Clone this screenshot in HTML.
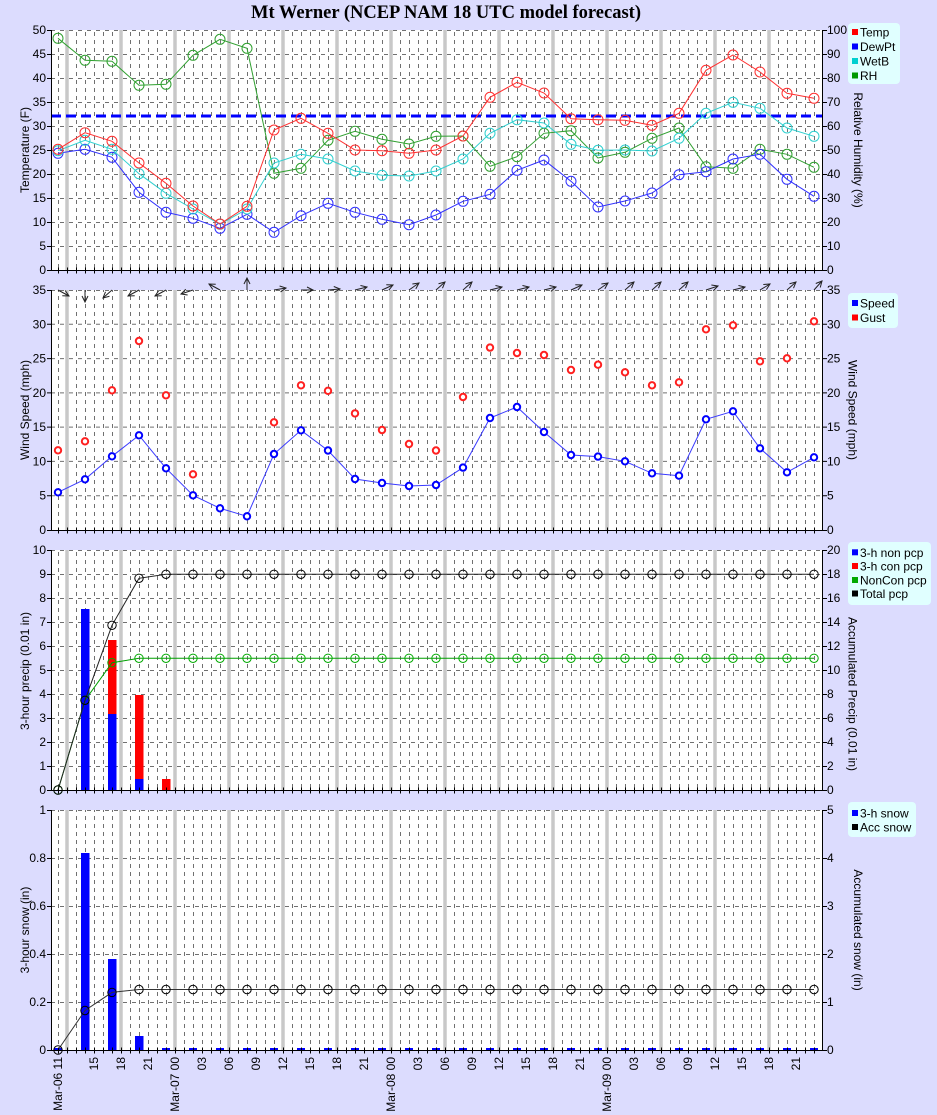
<!DOCTYPE html>
<html><head><meta charset="utf-8"><style>
html,body{margin:0;padding:0;background:#dcdcfe;width:937px;height:1115px;overflow:hidden}
svg text{font-family:"Liberation Sans",sans-serif;font-size:12px;fill:#000}
.hg{stroke:#707070;stroke-dasharray:4 5;fill:none}
.gb{stroke:#c8c8c8;stroke-width:3.5;fill:none}
.ax{fill:none;stroke:#000;stroke-width:1}
.tl{text-anchor:end}
.lab{text-anchor:middle}
.hk{stroke:#000;stroke-width:6;stroke-dasharray:1 8;fill:none}
.ar{stroke:#222;stroke-width:1;marker-end:url(#ah)}
</style></head><body>
<svg width="937" height="1115" viewBox="0 0 937 1115" xmlns="http://www.w3.org/2000/svg">
<defs>
<pattern id="vg" patternUnits="userSpaceOnUse" x="58" y="0" width="9" height="8"><rect width="1" height="4" fill="#707070"/></pattern>
<marker id="mR" markerUnits="userSpaceOnUse" markerWidth="14" markerHeight="14" refX="7" refY="7" overflow="visible"><circle cx="7" cy="7" r="5" fill="none" stroke="#ff3030"/></marker>
<marker id="mB" markerUnits="userSpaceOnUse" markerWidth="14" markerHeight="14" refX="7" refY="7" overflow="visible"><circle cx="7" cy="7" r="5" fill="none" stroke="#3030ff"/></marker>
<marker id="mC" markerUnits="userSpaceOnUse" markerWidth="14" markerHeight="14" refX="7" refY="7" overflow="visible"><circle cx="7" cy="7" r="5" fill="none" stroke="#30d0d0"/></marker>
<marker id="mG" markerUnits="userSpaceOnUse" markerWidth="14" markerHeight="14" refX="7" refY="7" overflow="visible"><circle cx="7" cy="7" r="5" fill="none" stroke="#30a030"/></marker>
<marker id="mSB" markerUnits="userSpaceOnUse" markerWidth="10" markerHeight="10" refX="5" refY="5" overflow="visible"><circle cx="5" cy="5" r="3.2" fill="#fff" stroke="#0000ff" stroke-width="2"/></marker>
<marker id="mSR" markerUnits="userSpaceOnUse" markerWidth="10" markerHeight="10" refX="5" refY="5" overflow="visible"><circle cx="5" cy="5" r="3.2" fill="#fff" stroke="#ff2020" stroke-width="2"/></marker>
<marker id="mK" markerUnits="userSpaceOnUse" markerWidth="12" markerHeight="12" refX="6" refY="6" overflow="visible"><circle cx="6" cy="6" r="4.2" fill="none" stroke="#000"/></marker>
<marker id="mG2" markerUnits="userSpaceOnUse" markerWidth="12" markerHeight="12" refX="6" refY="6" overflow="visible"><circle cx="6" cy="6" r="4.2" fill="none" stroke="#00aa00"/></marker>
<marker id="ah" markerUnits="userSpaceOnUse" markerWidth="8" markerHeight="8" refX="6" refY="3" orient="auto" overflow="visible"><path d="M0,0 L6,3 L0,6" fill="none" stroke="#222"/></marker>
</defs>

<text x="446" y="18" text-anchor="middle" style="font-family:'Liberation Serif',serif;font-size:18.5px;font-weight:bold">Mt Werner (NCEP NAM 18 UTC model forecast)</text>

<!-- ================= PANEL 1 ================= -->
<rect x="51" y="30" width="771" height="240" fill="#fff"/>
<rect x="58" y="30" width="757" height="240" fill="url(#vg)"/>
<path class="hg" d="M51 30.5H822M51 54.5H822M51 78.5H822M51 102.5H822M51 126.5H822M51 150.5H822M51 174.5H822M51 198.5H822M51 222.5H822M51 246.5H822"/>
<path class="gb" d="M67 30V270M121 30V270M175 30V270M229 30V270M283 30V270M337 30V270M391 30V270M445 30V270M499 30V270M553 30V270M607 30V270M661 30V270M715 30V270M769 30V270"/>
<path d="M51 116H822" stroke="#0000ff" stroke-width="3" stroke-dasharray="10 5" fill="none"/>
<polyline fill="none" stroke="#30a030" marker-start="url(#mG)" marker-mid="url(#mG)" marker-end="url(#mG)" points="58,38.3 85,60.3 112,61.3 139,85.3 166,84.3 193,55.3 220,39.3 247,48.3 274,173.3 301,168.3 328,140.3 355,131.3 382,139.3 409,144 436,136.3 463,136 490,166.3 517,156.7 544,133.3 571,130.7 598,158 625,152.3 652,138.3 679,128 706,166.7 733,168.3 760,149.3 787,154.3 814,167.3"/>
<polyline fill="none" stroke="#3030ff" marker-start="url(#mB)" marker-mid="url(#mB)" marker-end="url(#mB)" points="58,153.3 85,149.3 112,157.3 139,192.3 166,212.3 193,218.3 220,228.3 247,214.3 274,232.3 301,215.7 328,203.3 355,212.3 382,219.3 409,224.7 436,215 463,201.3 490,194.3 517,170.3 544,160 571,181.3 598,207 625,201 652,193 679,174.7 706,171.7 733,159 760,154.3 787,179.3 814,196.3"/>
<polyline fill="none" stroke="#30d0d0" marker-start="url(#mC)" marker-mid="url(#mC)" marker-end="url(#mC)" points="58,150.7 85,140.3 112,149.3 139,173.7 166,193.3 193,209 220,224.3 247,209 274,163 301,154.3 328,159 355,171 382,175.3 409,176 436,171 463,159 490,133.3 517,119.7 544,123 571,144.3 598,150.3 625,150 652,151 679,138.3 706,113.3 733,102.3 760,108.3 787,128 814,136.3"/>
<polyline fill="none" stroke="#ff3030" marker-start="url(#mR)" marker-mid="url(#mR)" marker-end="url(#mR)" points="58,149.3 85,132.7 112,141.3 139,163 166,183.3 193,206 220,224 247,206.3 274,130 301,118.3 328,133.3 355,150 382,150.7 409,153.3 436,150 463,136 490,97.3 517,82.3 544,93 571,118.7 598,119.7 625,120.3 652,125.3 679,113.3 706,70.3 733,55 760,72 787,93.3 814,98.3"/>
<path class="ax" d="M51.5 30V270.5H822.5V30"/>
<path class="ax" d="M47 30.5H51M47 54.5H51M47 78.5H51M47 102.5H51M47 126.5H51M47 150.5H51M47 174.5H51M47 198.5H51M47 222.5H51M47 246.5H51M47 270.5H51M823 30.5H827M823 54.5H827M823 78.5H827M823 102.5H827M823 126.5H827M823 150.5H827M823 174.5H827M823 198.5H827M823 222.5H827M823 246.5H827M823 270.5H827"/>
<path class="hk" d="M58 270.5H815"/>
<g class="tl">
<text x="46" y="34" class="tl">50</text><text x="46" y="58" class="tl">45</text><text x="46" y="82" class="tl">40</text><text x="46" y="106" class="tl">35</text><text x="46" y="130" class="tl">30</text><text x="46" y="154" class="tl">25</text><text x="46" y="178" class="tl">20</text><text x="46" y="202" class="tl">15</text><text x="46" y="226" class="tl">10</text><text x="46" y="250" class="tl">5</text><text x="46" y="274" class="tl">0</text>
</g>
<text x="827" y="34">100</text><text x="827" y="58">90</text><text x="827" y="82">80</text><text x="827" y="106">70</text><text x="827" y="130">60</text><text x="827" y="154">50</text><text x="827" y="178">40</text><text x="827" y="202">30</text><text x="827" y="226">20</text><text x="827" y="250">10</text><text x="827" y="274">0</text>
<text class="lab" transform="translate(29,150) rotate(-90)">Temperature (F)</text>
<text class="lab" transform="translate(854,150) rotate(90)">Relative Humidity (%)</text>
<rect x="848" y="23" width="52" height="61" rx="4" fill="#e0ffff"/>
<rect x="852" y="29" width="6" height="6" fill="#ff0000"/><text x="860" y="36.5">Temp</text>
<rect x="852" y="43.5" width="6" height="6" fill="#0000ff"/><text x="860" y="51">DewPt</text>
<rect x="852" y="58" width="6" height="6" fill="#00d0d0"/><text x="860" y="65.5">WetB</text>
<rect x="852" y="72.5" width="6" height="6" fill="#009900"/><text x="860" y="80">RH</text>

<!-- ================= PANEL 2 ================= -->
<rect x="51" y="290" width="771" height="240" fill="#fff"/>
<rect x="58" y="290" width="757" height="240" fill="url(#vg)"/>
<path class="hg" d="M51 290.5H822M51 324.3H822M51 358.6H822M51 392.9H822M51 427.1H822M51 461.4H822M51 495.7H822"/>
<path class="gb" d="M67 290V530M121 290V530M175 290V530M229 290V530M283 290V530M337 290V530M391 290V530M445 290V530M499 290V530M553 290V530M607 290V530M661 290V530M715 290V530M769 290V530"/>
<polyline fill="none" stroke="#3a3aff" marker-start="url(#mSB)" marker-mid="url(#mSB)" marker-end="url(#mSB)" points="58,492.3 85,479.3 112,456.3 139,435.3 166,468.3 193,495.3 220,508.3 247,516.3 274,454 301,430.3 328,450.5 355,479 382,483 409,486 436,485 463,467.6 490,418 517,407 544,432 571,455 598,456.6 625,461.3 652,473.3 679,475.7 706,419.3 733,411.3 760,448.3 787,472.3 814,457.3"/>
<polyline fill="none" stroke="none" marker-start="url(#mSR)" marker-mid="url(#mSR)" marker-end="url(#mSR)" points="58,450.3 85,441.3 112,390.3 139,341 166,395.3 193,474.3 274,422.3 301,385.3 328,390.8 355,413.4 382,430 409,444 436,450.5 463,397 490,347.6 517,353 544,355 571,370 598,364.7 625,372.3 652,385.3 679,382.3 706,329.3 733,325.3 760,361.3 787,358.3 814,321.3"/>
<path class="ax" d="M51.5 290V530.5H822.5V290"/>
<path class="ax" d="M47 290.5H51M47 324.3H51M47 358.6H51M47 392.9H51M47 427.1H51M47 461.4H51M47 495.7H51M47 530.5H51M823 290.5H827M823 324.3H827M823 358.6H827M823 392.9H827M823 427.1H827M823 461.4H827M823 495.7H827M823 530.5H827"/>
<path class="hk" d="M58 530.5H815"/>
<text x="46" y="294" class="tl">35</text><text x="46" y="328.3" class="tl">30</text><text x="46" y="362.6" class="tl">25</text><text x="46" y="396.9" class="tl">20</text><text x="46" y="431.1" class="tl">15</text><text x="46" y="465.4" class="tl">10</text><text x="46" y="499.7" class="tl">5</text><text x="46" y="534" class="tl">0</text>
<text x="827" y="294">35</text><text x="827" y="328.3">30</text><text x="827" y="362.6">25</text><text x="827" y="396.9">20</text><text x="827" y="431.1">15</text><text x="827" y="465.4">10</text><text x="827" y="499.7">5</text><text x="827" y="534">0</text>
<text class="lab" transform="translate(29,410) rotate(-90)">Wind Speed (mph)</text>
<text class="lab" transform="translate(848.5,410) rotate(90)">Wind Speed (mph)</text>
<rect x="848" y="293" width="50" height="35" rx="4" fill="#e0ffff"/>
<rect x="852" y="300" width="6" height="6" fill="#0000ff"/><text x="860" y="307.5">Speed</text>
<rect x="852" y="314.5" width="6" height="6" fill="#ff0000"/><text x="860" y="322">Gust</text>

<!-- wind arrows -->
<g class="ar">
<line x1="58" y1="290" x2="69" y2="296"/>
<line x1="85" y1="290" x2="85" y2="302"/>
<line x1="112" y1="290" x2="103" y2="298"/>
<line x1="139" y1="290" x2="128" y2="296"/>
<line x1="166" y1="290" x2="155" y2="296"/>
<line x1="193" y1="290" x2="181" y2="294"/>
<line x1="220" y1="290" x2="209" y2="284"/>
<line x1="247" y1="290" x2="247" y2="278"/>
<line x1="274" y1="290" x2="286" y2="288"/>
<line x1="301" y1="290" x2="313" y2="290"/>
<line x1="328" y1="290" x2="340" y2="289"/>
<line x1="355" y1="290" x2="367" y2="287"/>
<line x1="382" y1="290" x2="393" y2="285"/>
<line x1="409" y1="290" x2="419" y2="283"/>
<line x1="436" y1="290" x2="445" y2="282"/>
<line x1="463" y1="290" x2="472" y2="282"/>
<line x1="490" y1="290" x2="502" y2="287"/>
<line x1="517" y1="290" x2="529" y2="287"/>
<line x1="544" y1="290" x2="556" y2="287"/>
<line x1="571" y1="290" x2="582" y2="285"/>
<line x1="598" y1="290" x2="608" y2="283"/>
<line x1="625" y1="290" x2="634" y2="282"/>
<line x1="652" y1="290" x2="661" y2="282"/>
<line x1="679" y1="290" x2="688" y2="282"/>
<line x1="706" y1="290" x2="718" y2="286"/>
<line x1="733" y1="290" x2="745" y2="287"/>
<line x1="760" y1="290" x2="770" y2="284"/>
<line x1="787" y1="290" x2="796" y2="282"/>
<line x1="814" y1="290" x2="822" y2="281"/>
</g>

<!-- ================= PANEL 3 ================= -->
<rect x="51" y="550" width="771" height="240" fill="#fff"/>
<rect x="58" y="550" width="757" height="240" fill="url(#vg)"/>
<path class="hg" d="M51 550.5H822M51 574.5H822M51 598.5H822M51 622.5H822M51 646.5H822M51 670.5H822M51 694.5H822M51 718.5H822M51 742.5H822M51 766.5H822"/>
<path class="gb" d="M67 550V790M121 550V790M175 550V790M229 550V790M283 550V790M337 550V790M391 550V790M445 550V790M499 550V790M553 550V790M607 550V790M661 550V790M715 550V790M769 550V790"/>
<rect x="81" y="609" width="8.5" height="181" fill="#0000ff"/>
<rect x="108" y="714" width="8.5" height="76" fill="#0000ff"/>
<rect x="108" y="640" width="8.5" height="74" fill="#ff0000"/>
<rect x="135" y="779" width="8.5" height="11" fill="#0000ff"/>
<rect x="135" y="695" width="8.5" height="84" fill="#ff0000"/>
<rect x="162" y="779" width="8.5" height="11" fill="#ff0000"/>
<polyline fill="none" stroke="#00a000" marker-start="url(#mG2)" marker-mid="url(#mG2)" marker-end="url(#mG2)" points="58,790 85,700.3 112,662.7 139,658.3 166,658.3 193,658.3 220,658.3 247,658.3 274,658.3 301,658.3 328,658.3 355,658.3 382,658.3 409,658.3 436,658.3 463,658.3 490,658.3 517,658.3 544,658.3 571,658.3 598,658.3 625,658.3 652,658.3 679,658.3 706,658.3 733,658.3 760,658.3 787,658.3 814,658.3"/>
<polyline fill="none" stroke="#222" marker-start="url(#mK)" marker-mid="url(#mK)" marker-end="url(#mK)" points="58,790 85,700.3 112,625.3 139,578.3 166,574.3 193,574.3 220,574.3 247,574.3 274,574.3 301,574.3 328,574.3 355,574.3 382,574.3 409,574.3 436,574.3 463,574.3 490,574.3 517,574.3 544,574.3 571,574.3 598,574.3 625,574.3 652,574.3 679,574.3 706,574.3 733,574.3 760,574.3 787,574.3 814,574.3"/>
<path class="ax" d="M51.5 550V790.5H822.5V550"/>
<path class="ax" d="M47 550.5H51M47 574.5H51M47 598.5H51M47 622.5H51M47 646.5H51M47 670.5H51M47 694.5H51M47 718.5H51M47 742.5H51M47 766.5H51M47 790.5H51M823 550.5H827M823 574.5H827M823 598.5H827M823 622.5H827M823 646.5H827M823 670.5H827M823 694.5H827M823 718.5H827M823 742.5H827M823 766.5H827M823 790.5H827"/>
<path class="hk" d="M58 790.5H815"/>
<text x="46" y="554" class="tl">10</text><text x="46" y="578" class="tl">9</text><text x="46" y="602" class="tl">8</text><text x="46" y="626" class="tl">7</text><text x="46" y="650" class="tl">6</text><text x="46" y="674" class="tl">5</text><text x="46" y="698" class="tl">4</text><text x="46" y="722" class="tl">3</text><text x="46" y="746" class="tl">2</text><text x="46" y="770" class="tl">1</text><text x="46" y="794" class="tl">0</text>
<text x="827" y="554">20</text><text x="827" y="578">18</text><text x="827" y="602">16</text><text x="827" y="626">14</text><text x="827" y="650">12</text><text x="827" y="674">10</text><text x="827" y="698">8</text><text x="827" y="722">6</text><text x="827" y="746">4</text><text x="827" y="770">2</text><text x="827" y="794">0</text>
<text class="lab" transform="translate(29,671) rotate(-90)">3-hour precip (0.01 in)</text>
<text class="lab" transform="translate(848.5,694) rotate(90)">Accumulated Precip (0.01 in)</text>
<rect x="848" y="542" width="83" height="63" rx="4" fill="#e0ffff"/>
<rect x="852" y="549.3" width="6" height="6" fill="#0000ff"/><text x="860" y="556.8">3-h non pcp</text>
<rect x="852" y="563" width="6" height="6" fill="#ff0000"/><text x="860" y="570.5">3-h con pcp</text>
<rect x="852" y="577" width="6" height="6" fill="#00aa00"/><text x="860" y="584.5">NonCon pcp</text>
<rect x="852" y="590.5" width="6" height="6" fill="#000"/><text x="860" y="598">Total pcp</text>

<!-- ================= PANEL 4 ================= -->
<rect x="51" y="810" width="771" height="240" fill="#fff"/>
<rect x="58" y="810" width="757" height="240" fill="url(#vg)"/>
<path class="hg" d="M51 810.5H822M51 858.5H822M51 906.5H822M51 954.5H822M51 1002.5H822"/>
<path class="gb" d="M67 810V1050M121 810V1050M175 810V1050M229 810V1050M283 810V1050M337 810V1050M391 810V1050M445 810V1050M499 810V1050M553 810V1050M607 810V1050M661 810V1050M715 810V1050M769 810V1050"/>
<rect x="81" y="853" width="8.5" height="197" fill="#0000ff"/>
<rect x="108" y="959" width="8.5" height="91" fill="#0000ff"/>
<rect x="135" y="1036" width="8.5" height="14" fill="#0000ff"/>
<path d="M54 1049H819" stroke="#0000ff" stroke-width="2" stroke-dasharray="8 19" fill="none"/>
<polyline fill="none" stroke="#333" marker-start="url(#mK)" marker-mid="url(#mK)" marker-end="url(#mK)" points="58,1050 85,1010.5 112,992.4 139,989.5 166,989.5 193,989.5 220,989.5 247,989.5 274,989.5 301,989.5 328,989.5 355,989.5 382,989.5 409,989.5 436,989.5 463,989.5 490,989.5 517,989.5 544,989.5 571,989.5 598,989.5 625,989.5 652,989.5 679,989.5 706,989.5 733,989.5 760,989.5 787,989.5 814,989.5"/>
<path class="ax" d="M51.5 810V1050.5H822.5V810"/>
<path class="ax" d="M47 810.5H51M47 858.5H51M47 906.5H51M47 954.5H51M47 1002.5H51M47 1050.5H51M823 810.5H827M823 858.5H827M823 906.5H827M823 954.5H827M823 1002.5H827M823 1050.5H827"/>
<path class="hk" d="M58 1050.5H815"/>
<text x="46" y="814" class="tl">1</text><text x="46" y="862" class="tl">0.8</text><text x="46" y="910" class="tl">0.6</text><text x="46" y="958" class="tl">0.4</text><text x="46" y="1006" class="tl">0.2</text><text x="46" y="1054" class="tl">0</text>
<text x="827" y="814">5</text><text x="827" y="862">4</text><text x="827" y="910">3</text><text x="827" y="958">2</text><text x="827" y="1006">1</text><text x="827" y="1054">0</text>
<text class="lab" transform="translate(29,930) rotate(-90)">3-hour snow (in)</text>
<text class="lab" transform="translate(854,930) rotate(90)">Accumulated snow (in)</text>
<rect x="848" y="802" width="68" height="35" rx="4" fill="#e0ffff"/>
<rect x="852" y="810" width="6" height="6" fill="#0000ff"/><text x="860" y="817.5">3-h snow</text>
<rect x="852" y="824" width="6" height="6" fill="#000"/><text x="860" y="831.5">Acc snow</text>

<!-- x-axis labels -->
<g class="tl">
<text class="tl" transform="translate(62,1057) rotate(-90)">Mar-06 11</text>
<text class="tl" transform="translate(98,1057) rotate(-90)">15</text>
<text class="tl" transform="translate(125,1057) rotate(-90)">18</text>
<text class="tl" transform="translate(152,1057) rotate(-90)">21</text>
<text class="tl" transform="translate(179,1057) rotate(-90)">Mar-07 00</text>
<text class="tl" transform="translate(206,1057) rotate(-90)">03</text>
<text class="tl" transform="translate(233,1057) rotate(-90)">06</text>
<text class="tl" transform="translate(260,1057) rotate(-90)">09</text>
<text class="tl" transform="translate(287,1057) rotate(-90)">12</text>
<text class="tl" transform="translate(314,1057) rotate(-90)">15</text>
<text class="tl" transform="translate(341,1057) rotate(-90)">18</text>
<text class="tl" transform="translate(368,1057) rotate(-90)">21</text>
<text class="tl" transform="translate(395,1057) rotate(-90)">Mar-08 00</text>
<text class="tl" transform="translate(422,1057) rotate(-90)">03</text>
<text class="tl" transform="translate(449,1057) rotate(-90)">06</text>
<text class="tl" transform="translate(476,1057) rotate(-90)">09</text>
<text class="tl" transform="translate(503,1057) rotate(-90)">12</text>
<text class="tl" transform="translate(530,1057) rotate(-90)">15</text>
<text class="tl" transform="translate(557,1057) rotate(-90)">18</text>
<text class="tl" transform="translate(584,1057) rotate(-90)">21</text>
<text class="tl" transform="translate(611,1057) rotate(-90)">Mar-09 00</text>
<text class="tl" transform="translate(638,1057) rotate(-90)">03</text>
<text class="tl" transform="translate(665,1057) rotate(-90)">06</text>
<text class="tl" transform="translate(692,1057) rotate(-90)">09</text>
<text class="tl" transform="translate(719,1057) rotate(-90)">12</text>
<text class="tl" transform="translate(746,1057) rotate(-90)">15</text>
<text class="tl" transform="translate(773,1057) rotate(-90)">18</text>
<text class="tl" transform="translate(800,1057) rotate(-90)">21</text>
</g>
</svg>
</body></html>
